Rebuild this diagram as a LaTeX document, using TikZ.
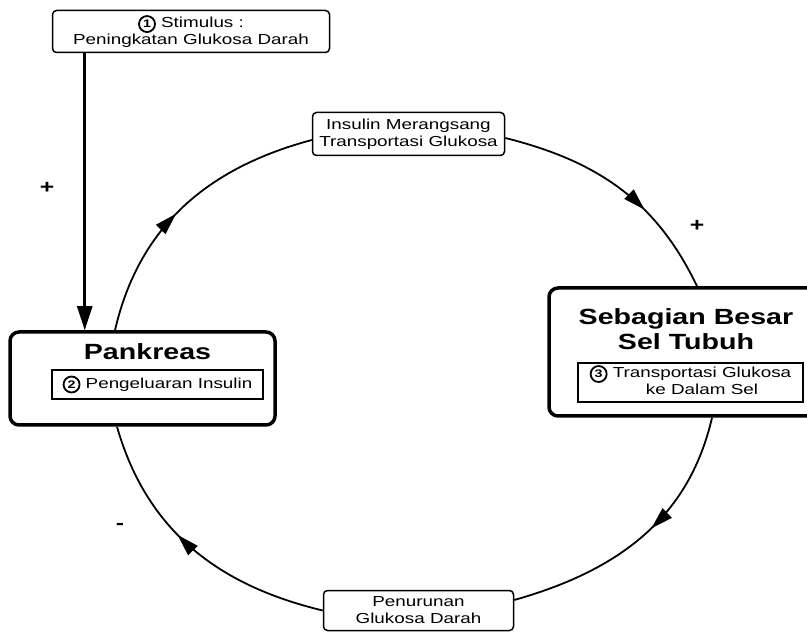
\documentclass[tikz,border=0pt]{standalone}
\usepackage{fontspec}
\setmainfont{Liberation Sans}[FakeStretch=1.3]
\usetikzlibrary{calc,arrows.meta,decorations.markings}

\newcommand{\cnum}[1]{\tikz[baseline=(n.base)]\node[draw,circle,line width=1.8pt,minimum size=16pt,inner sep=0pt,font=\bfseries\fontsize{11}{11}\selectfont](n){#1};}

\begin{document}
\begin{tikzpicture}[x=1pt,y=1pt,
  txt/.style={font=\fontsize{14.5}{17}\selectfont},
  smallbox/.style={draw,line width=1.5pt,rounded corners=4pt,align=center,inner sep=0pt,txt},
  bigbox/.style={draw,line width=3.5pt,rounded corners=9pt,inner sep=0pt},
  title/.style={font=\bfseries\fontsize{22}{25}\selectfont,align=center},
  subbox/.style={draw,line width=1.2pt,inner sep=2pt,txt},
  cyc/.style={line width=1.8pt,postaction={decorate},decoration={markings,mark=at position #1 with {\arrow{Triangle[length=22pt,width=13pt]}}}},
  feed/.style={line width=2.6pt,-{Triangle[length=24pt,width=15pt]}},
  sign/.style={font=\bfseries\fontsize{19}{19}\selectfont}]

\useasboundingbox (0,0) rectangle (807,633);

% boxes
\node[smallbox,minimum width=277,minimum height=42] (stim) at (191,601.5) {\cnum{1} Stimulus :\\Peningkatan Glukosa Darah};

\node[smallbox,minimum width=192,minimum height=43] (top) at (408.5,499) {Insulin Merangsang\\Transportasi Glukosa};

\node[bigbox,minimum width=265,minimum height=93] (pank) at (142.5,254.5) {};
\node[title] (pankT) at (147.5,281) {Pankreas};
\node[subbox,minimum width=211,minimum height=29] (pankS) at (157.5,248.5) {\cnum{2} Pengeluaran Insulin};

\node[bigbox,minimum width=300,minimum height=128] (sel) at (699,281) {};
\node[title] (selT) at (686,303.5) {Sebagian Besar\\Sel Tubuh};
\node[subbox,minimum width=225,minimum height=39] (selS) at (690.5,250.5) {\cnum{3} \begin{tabular}[t]{@{}c@{}}Transportasi Glukosa\\ke Dalam Sel\end{tabular}};

\node[smallbox,minimum width=190,minimum height=40] (bot) at (418.5,22.5) {Penurunan\\Glukosa Darah};

% stimulus arrow
\draw[feed] ($(stim.south west)+(33,0)$) coordinate (s1) -- (s1 |- pank.north);

% the loop
\draw[cyc=0.46] ($(pank.north)+(-27.5,0)$) to[out=77,in=195] ($(top.west)+(0,-6)$);
\draw[cyc=0.63] ($(top.east)+(0,-4)$) to[out=-14,in=115.5] ($(sel.north)+(-2,0)$);
\draw[cyc=0.45] ($(sel.south)+(13,0)$) to[out=-103,in=15.8] ($(bot.east)+(0,10.5)$);
\draw[cyc=0.57] (bot.west) to[out=166.5,in=-74] ($(pank.south)+(-25.5,0)$);

% signs
\node[sign] (plusA) at (47,445) {+};
\node[sign] (plusB) at (697,407) {+};
\node[sign] (minus) at (120,107) {-};

\end{tikzpicture}
\end{document}
